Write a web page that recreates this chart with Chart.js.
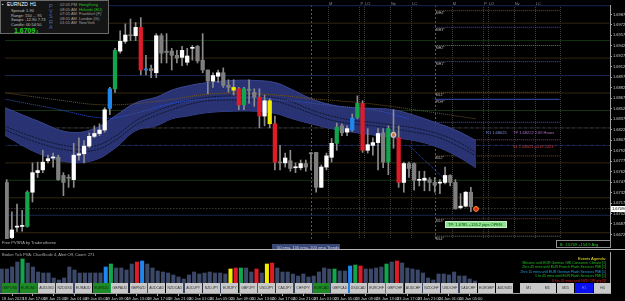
<!DOCTYPE html>
<html>
<head>
<meta charset="utf-8">
<script src="https://cdn.jsdelivr.net/npm/chart.js@4.4.1/dist/chart.umd.min.js"></script>
<style>
  html, body { margin: 0; padding: 0; background: #000; }
  #wrap { position: relative; width: 625px; height: 301px; overflow: hidden; background: #000; font-family: "Liberation Sans", Arial, sans-serif; }
  canvas { position: absolute; left: 0; }
  #priceChart { top: 0; }
  #volChart { top: 250px; }
  .tx { position: absolute; white-space: nowrap; font-size: 4px; line-height: 5px; color: #c8c8c8; }
  .btn { position: absolute; top: 283px; height: 10px; background: #c9c9c9; color: #333; font-size: 3.5px; line-height: 10px; text-align: center; }
</style>
</head>
<body>
<div id="wrap">
  <canvas id="priceChart" width="625" height="244"></canvas>
  <canvas id="volChart" width="625" height="51"></canvas>
</div>
<script>
// EURNZD H1, 18 Jan 13:00 .. 24 Jan 08:00 (one entry per bar)
var candleOpen = [
  1.6747, 1.6668, 1.6683, 1.6684, 1.6684, 1.6733, 1.6761, 1.6765, 1.6778, 1.6782,
  1.6783, 1.6757, 1.6754, 1.6751, 1.6786, 1.6788, 1.6799, 1.6813, 1.6817, 1.6822,
  1.6853, 1.6881, 1.6935, 1.6949, 1.6958, 1.6957, 1.6969, 1.6908, 1.6910, 1.6904,
  1.6957, 1.6935, 1.6935, 1.6929, 1.6926, 1.6919, 1.6939, 1.6942, 1.6922, 1.6908,
  1.6892, 1.6899, 1.6904, 1.6886, 1.6883, 1.6881, 1.6858, 1.6880, 1.6876, 1.6869,
  1.6842, 1.6864, 1.6831, 1.6776, 1.6775, 1.6778, 1.6768, 1.6768, 1.6774, 1.6789,
  1.6790, 1.6740, 1.6769, 1.6783, 1.6803, 1.6828, 1.6819, 1.6822, 1.6840, 1.6860,
  1.6793, 1.6800, 1.6804, 1.6818, 1.6776, 1.6819, 1.6811, 1.6747, 1.6774, 1.6774,
  1.6750, 1.6750, 1.6751, 1.6747, 1.6746, 1.6747, 1.6757, 1.6747, 1.6711, 1.6713,
  1.6733, 1.6710
];
var candleHigh = [
  1.6751, 1.6705, 1.6716, 1.6707, 1.6735, 1.6775, 1.6776, 1.6793, 1.6786, 1.6789,
  1.6786, 1.6761, 1.6758, 1.6803, 1.6811, 1.6807, 1.6818, 1.6828, 1.6831, 1.6854,
  1.6883, 1.6939, 1.6964, 1.6974, 1.6981, 1.6976, 1.6983, 1.6929, 1.6915, 1.6960,
  1.6960, 1.6960, 1.6939, 1.6936, 1.6942, 1.6939, 1.6943, 1.6943, 1.6960, 1.6908,
  1.6904, 1.6908, 1.6911, 1.6894, 1.6894, 1.6883, 1.6883, 1.6894, 1.6881, 1.6881,
  1.6872, 1.6867, 1.6842, 1.6800, 1.6789, 1.6793, 1.6775, 1.6779, 1.6779, 1.6790,
  1.6790, 1.6772, 1.6789, 1.6810, 1.6832, 1.6831, 1.6828, 1.6845, 1.6871, 1.6864,
  1.6824, 1.6811, 1.6824, 1.6824, 1.6828, 1.6851, 1.6828, 1.6776, 1.6776, 1.6775,
  1.6763, 1.6763, 1.6754, 1.6754, 1.6751, 1.6769, 1.6758, 1.6751, 1.6731, 1.6734,
  1.6740, 1.6711
];
var candleLow = [
  1.6664, 1.6665, 1.6677, 1.6677, 1.6683, 1.6719, 1.6754, 1.6761, 1.6775, 1.6769,
  1.6750, 1.6728, 1.6740, 1.6740, 1.6779, 1.6775, 1.6797, 1.6811, 1.6814, 1.6819,
  1.6844, 1.6876, 1.6932, 1.6946, 1.6950, 1.6950, 1.6901, 1.6901, 1.6897, 1.6897,
  1.6918, 1.6918, 1.6908, 1.6918, 1.6914, 1.6915, 1.6922, 1.6918, 1.6904, 1.6874,
  1.6883, 1.6890, 1.6883, 1.6876, 1.6872, 1.6851, 1.6851, 1.6860, 1.6856, 1.6825,
  1.6828, 1.6825, 1.6765, 1.6765, 1.6769, 1.6763, 1.6761, 1.6765, 1.6763, 1.6765,
  1.6733, 1.6740, 1.6765, 1.6776, 1.6793, 1.6814, 1.6814, 1.6820, 1.6838, 1.6790,
  1.6789, 1.6786, 1.6765, 1.6768, 1.6758, 1.6796, 1.6740, 1.6733, 1.6754, 1.6736,
  1.6742, 1.6735, 1.6735, 1.6733, 1.6731, 1.6745, 1.6742, 1.6709, 1.6709, 1.6712,
  1.6705, 1.6707
];
var candleClose = [
  1.6665, 1.6679, 1.6684, 1.6685, 1.6733, 1.6761, 1.6764, 1.6776, 1.6781, 1.6783,
  1.6751, 1.6747, 1.6753, 1.6786, 1.6788, 1.6799, 1.6813, 1.6817, 1.6822, 1.6851,
  1.6881, 1.6936, 1.6949, 1.6958, 1.6957, 1.6969, 1.6908, 1.6909, 1.6907, 1.6957,
  1.6932, 1.6933, 1.6929, 1.6925, 1.6936, 1.6928, 1.6940, 1.6921, 1.6908, 1.6892,
  1.6900, 1.6904, 1.6886, 1.6883, 1.6879, 1.6858, 1.6881, 1.6879, 1.6869, 1.6842,
  1.6864, 1.6831, 1.6776, 1.6775, 1.6782, 1.6767, 1.6769, 1.6774, 1.6769, 1.6788,
  1.6740, 1.6769, 1.6785, 1.6803, 1.6826, 1.6818, 1.6824, 1.6839, 1.6860, 1.6793,
  1.6801, 1.6804, 1.6817, 1.6776, 1.6824, 1.6815, 1.6747, 1.6774, 1.6767, 1.6750,
  1.6751, 1.6753, 1.6747, 1.6743, 1.6747, 1.6757, 1.6747, 1.6709, 1.6713, 1.6733,
  1.6712, 1.6709
];
// PVSRA bar class: w bull, g bear, G bull climax, R bear climax, B bull rising, Y bear rising
var candleType = [
  'g','w','w','w','G','w','w','w','w','w',
  'g','g','g','w','w','w','w','w','w','w',
  'B','G','w','w','g','w','R','B','g','w',
  'g','g','g','g','w','w','w','g','g','g',
  'w','w','g','g','Y','R','G','g','g','R',
  'w','Y','R','g','w','g','w','w','g','g',
  'g','w','w','w','G','g','w','B','G','R',
  'w','w','w','g','G','g','R','w','g','g',
  'w','w','g','g','w','w','g','g','w','w',
  'g','g'
];
var tickVolume = [
  2400, 2400, 2600, 3100, 3400, 3000, 2600, 2100, 2000, 2000,
  1500, 1300, 1500, 2600, 2300, 2000, 2000, 2000, 2000, 2000,
  2600, 2900, 2500, 2500, 2300, 2900, 3100, 3200, 2900, 2500,
  2200, 2100, 2000, 1800, 1600, 1400, 1800, 2100, 1900, 2000,
  2100, 2000, 2000, 1900, 2400, 2500, 2500, 2500, 2100, 2400,
  2000, 2900, 3000, 2500, 2100, 2100, 1900, 1700, 1900, 1600,
  1700, 2100, 2500, 2400, 2400, 2200, 2200, 2700, 2800, 2700,
  2400, 2400, 2500, 2600, 2900, 3100, 3200, 3000, 2500, 2400,
  2300, 2000, 1500, 1300, 1900, 1900, 1800, 2100, 1700, 1700,
  1400, 1200
];

// time axis
var tickIndex = [0, 4, 8, 12, 16, 20, 24, 28, 32, 36, 40, 44, 48, 52, 56, 60, 64, 68, 72, 76, 80, 84, 88];
var tickLabels = ['18 Jan 2023', '18 Jan 17:00', '18 Jan 21:00', '19 Jan 01:00', '19 Jan 05:00', '19 Jan 09:00',
  '19 Jan 13:00', '19 Jan 17:00', '19 Jan 21:00', '20 Jan 01:00', '20 Jan 05:00', '20 Jan 09:00', '20 Jan 13:00',
  '20 Jan 17:00', '20 Jan 21:00', '23 Jan 01:00', '23 Jan 05:00', '23 Jan 09:00', '23 Jan 13:00', '23 Jan 17:00',
  '23 Jan 21:00', '24 Jan 01:00', '24 Jan 05:00'];

// price axis
var priceTicks = [1.69875, 1.69725, 1.69575, 1.69425, 1.69275, 1.69125, 1.68975, 1.68825, 1.68675, 1.68525,
  1.68375, 1.68225, 1.68075, 1.67925, 1.67775, 1.67625, 1.67475, 1.67325, 1.67175, 1.67025, 1.66875, 1.66725];
var bidPrice = 1.67096;

// ema band (50 ema envelope) and trend lines, sampled at bar index
var bandIdx = [-1, 6, 12, 17, 21, 25, 29, 32, 35, 39, 44, 48, 52, 55, 59, 63, 67, 71, 75, 79, 83, 87, 91];
var bandUpper = [1.6856, 1.6835, 1.6819, 1.6824, 1.6842, 1.6861, 1.6869, 1.6879, 1.6885, 1.6890, 1.6893, 1.6893,
  1.6890, 1.6881, 1.6867, 1.6858, 1.6854, 1.6853, 1.6851, 1.6843, 1.6833, 1.6822, 1.6807];
var bandLower = [1.6817, 1.6789, 1.6776, 1.6779, 1.6796, 1.6821, 1.6828, 1.6838, 1.6842, 1.6847, 1.6849, 1.6849,
  1.6846, 1.6839, 1.6831, 1.6824, 1.6819, 1.6815, 1.6811, 1.6807, 1.6799, 1.6786, 1.6768];
var ema100 = [1.6829, 1.6810, 1.6799, 1.6799, 1.6813, 1.6835, 1.6849, 1.6857, 1.6864, 1.6869, 1.6871, 1.6871,
  1.6868, 1.6863, 1.6851, 1.6842, 1.6836, 1.6833, 1.6829, 1.6825, 1.6818, 1.6807, 1.6790];
var ema200 = [1.6824, 1.6804, 1.6793, 1.6793, 1.6807, 1.6829, 1.6843, 1.6851, 1.6858, 1.6864, 1.6865, 1.6865,
  1.6863, 1.6857, 1.6846, 1.6836, 1.6831, 1.6828, 1.6824, 1.6819, 1.6813, 1.6801, 1.6785];
var blueIdx = [-1, 9, 19, 25, 32, 40, 48, 56, 63, 71, 78];
var blueLine = [1.6867, 1.6853, 1.6839, 1.6846, 1.6860, 1.6867, 1.6868, 1.6863, 1.6857, 1.6851, 1.6838];
var brownIdx = [-1, 10, 19, 29, 40, 48, 54, 59, 70, 80, 91];
var brownLine = [1.6876, 1.6865, 1.6858, 1.6863, 1.6874, 1.6874, 1.6871, 1.6867, 1.6860, 1.6850, 1.6838];
var trendIdx = [78, 85];
var trendLine = [1.6800, 1.6751];

// quarter levels across the whole chart
var levelPrice = [1.7000, 1.6975, 1.6950, 1.6925, 1.6900, 1.6875, 1.6850, 1.6825, 1.6800, 1.6775, 1.6750, 1.6725, 1.6700, 1.6675];
var levelColor = ['#172550', '#33250f', '#143514', '#33250f', '#172550', '#33250f', '#143514', '#484848', '#26356e', '#33250f', '#143514', '#33250f', '#172550', '#33250f'];
var levelDash = [[], [], [], [], [], [], [], [3, 1, 1, 1], [3, 1, 1, 1], [], [], [], [], []];

// today's pivot levels (from 24 Jan 00:00)
var pivotFrom = 83, pivotTo = 107.2;
var pivotPrice = [1.6993, 1.6969, 1.6943, 1.6920, 1.6876, 1.6866, 1.6833, 1.6808, 1.6785, 1.6695, 1.6670];
var pivotName = ['MH4', 'MH3', 'MH2', 'MH1', 'ML1', 'PDH', '', '', 'ML2', 'ML3', 'ML4'];
var pivotColor = ['#7a4a22', '#3a4ab8', '#707070', '#3a4ab8', '#7a4a22', '#3a4ab8', '#3a4ab8', '#7a4a7a', '#7a4a22', '#8a3030', '#707070'];

// session markers
var daySep = [59, 83];
var sessionIdx = [62.3, 68.4, 69.3, 74.3, 78.4, 86.3, 92.4, 93.3, 98.3, 102.4];
var sessionName = ['M', 'P', 'LO', 'Ny', 'LC', 'M', 'P', 'LO', 'Ny', 'LC'];

var markIdx = [75, 91];
var markPrice = [1.6815, 1.6709];

var pairs = ['GBPUSD', 'EURUSD', 'AUDUSD', 'NZDUSD', 'EURAUD', 'EURNZD', 'GBPAUD', 'GBPNZD', 'AUDCAD', 'NZDCAD',
  'AUDJPY', 'NZDJPY', 'EURJPY', 'GBPJPY', 'USDJPY', 'CADJPY', 'CHFJPY', 'EURCAD', 'GBPCAD', 'USDCAD', 'EURCHF',
  'GBPCHF', 'AUDCHF', 'NZDCHF', 'USDCHF', 'CADCHF', 'EURGBP', 'AUDNZD'];
var pairsOn = ['GBPUSD', 'EURUSD', 'EURNZD', 'EURCAD'];
var frames = ['M1', 'M5', 'M15', 'H1', 'H4'];

var X_MIN = -0.33, X_MAX = 116.98;
var typeColor = { w: '#ffffff', g: '#7f7f7f', G: '#13a54b', R: '#dd1c28', B: '#1f86ee', Y: '#f2ee00' };
var volColor = { w: '#3c4868', g: '#3c4868', G: '#13a54b', R: '#dd1c28', B: '#1f86ee', Y: '#f2ee00' };

function pts(idx, vals) {
    return idx.map(function (x, k) { return { x: x, y: vals[k] }; });
}

var datasets = [];
for (let k = 0; k < levelPrice.length; k++) {
    datasets.push({
        type: 'line', data: [{ x: -2, y: levelPrice[k] }, { x: 120, y: levelPrice[k] }],
        borderColor: levelColor[k], borderWidth: 1, borderDash: levelDash[k], pointRadius: 0, order: 20
    });
}
datasets.push({
    type: 'line', data: [{ x: -2, y: bidPrice }, { x: 120, y: bidPrice }],
    borderColor: '#5a5a5a', borderWidth: 1, borderDash: [1, 2], pointRadius: 0, order: 19
});
for (let k = 0; k < pivotPrice.length; k++) {
    datasets.push({
        type: 'line', data: [{ x: pivotFrom, y: pivotPrice[k] }, { x: pivotTo, y: pivotPrice[k] }],
        borderColor: pivotColor[k], borderWidth: 1, borderDash: k === 5 ? [] : [1, 1], pointRadius: 0, order: 18
    });
}
datasets.push({
    type: 'line', data: pts(bandIdx, bandUpper), borderColor: '#3a4792', borderWidth: 1,
    backgroundColor: 'rgba(44,55,124,0.93)', fill: '+1', tension: 0.4, pointRadius: 0, order: 15
});
datasets.push({
    type: 'line', data: pts(bandIdx, bandLower), borderColor: '#3a4792', borderWidth: 1,
    fill: false, tension: 0.4, pointRadius: 0, order: 15
});
datasets.push({ type: 'line', data: pts(bandIdx, ema100), borderColor: '#11152a', borderWidth: 1, borderDash: [2, 1], tension: 0.4, pointRadius: 0, order: 12 });
datasets.push({ type: 'line', data: pts(bandIdx, ema200), borderColor: '#11152a', borderWidth: 1, borderDash: [2, 1], tension: 0.4, pointRadius: 0, order: 12 });
datasets.push({ type: 'line', data: pts(blueIdx, blueLine), borderColor: '#2a52d8', borderWidth: 1, borderDash: [1, 1], tension: 0.4, pointRadius: 0, order: 11 });
datasets.push({ type: 'line', data: pts(brownIdx, brownLine), borderColor: '#6e5424', borderWidth: 1, borderDash: [1, 1], tension: 0.4, pointRadius: 0, order: 11 });
datasets.push({ type: 'line', data: pts(trendIdx, trendLine), borderColor: '#2a52d8', borderWidth: 1, borderDash: [1, 1], pointRadius: 0, order: 11 });
datasets.push({
    type: 'bar', data: candleLow.map(function (l, i) { return { x: i, y: [l, candleHigh[i]] }; }),
    backgroundColor: '#8c8c8c', barThickness: 1, grouped: false, order: 3
});
datasets.push({
    type: 'bar', data: candleOpen.map(function (o, i) { return { x: i, y: [o, candleClose[i]] }; }),
    backgroundColor: candleType.map(function (t) { return typeColor[t]; }),
    barThickness: 3.6, minBarLength: 1, grouped: false, order: 2
});
datasets.push({
    type: 'line', data: pts(markIdx, markPrice), showLine: false, pointRadius: 2.4, pointBorderWidth: 1,
    pointBackgroundColor: ['#c87850', '#e0201c'], pointBorderColor: ['#e8e0d8', '#ff9a20'], order: 0
});

var sessionPlugin = {
    id: 'sessions',
    beforeDatasetsDraw: function (chart) {
        var ctx = chart.ctx, xs = chart.scales.x, a = chart.chartArea;
        ctx.save();
        ctx.lineWidth = 1;
        daySep.forEach(function (i) {
            var px = Math.round(xs.getPixelForValue(i)) + 0.5;
            ctx.strokeStyle = '#5a5a5a';
            ctx.setLineDash([2, 2]);
            ctx.beginPath(); ctx.moveTo(px, a.top); ctx.lineTo(px, a.bottom); ctx.stroke();
        });
        ctx.setLineDash([1, 1]);
        ctx.strokeStyle = '#3c3c3c';
        sessionIdx.concat([pivotTo]).forEach(function (i) {
            var px = Math.round(xs.getPixelForValue(i)) + 0.5;
            ctx.beginPath(); ctx.moveTo(px, a.top); ctx.lineTo(px, a.bottom); ctx.stroke();
        });
        ctx.setLineDash([]);
        ctx.fillStyle = '#8a8a8a';
        ctx.font = '4px "Liberation Sans"';
        ctx.textBaseline = 'top';
        sessionIdx.forEach(function (i, k) {
            ctx.fillText(sessionName[k], xs.getPixelForValue(i) + 1, 2);
        });
        ctx.restore();
    },
    afterDraw: function (chart) {
        var ctx = chart.ctx, y = chart.scales.y.getPixelForValue(bidPrice);
        ctx.save();
        ctx.fillStyle = '#ffffff';
        ctx.fillRect(611, Math.round(y) - 3, 14, 6);
        ctx.fillStyle = '#000000';
        ctx.font = '4px "Liberation Sans"';
        ctx.textBaseline = 'middle';
        ctx.fillText(bidPrice.toFixed(5), 612, y);
        ctx.restore();
    }
};

var priceChart = new Chart(document.getElementById('priceChart'), {
    type: 'bar',
    data: { datasets: datasets },
    options: {
        responsive: false, animation: false, devicePixelRatio: 1,
        layout: { padding: { top: 0, bottom: 1, left: 0, right: 0 } },
        plugins: { legend: { display: false }, tooltip: { enabled: false } },
        scales: {
            x: { type: 'linear', min: X_MIN, max: X_MAX, display: false, offset: false },
            y: {
                type: 'linear', position: 'right', min: 1.6666, max: 1.7001,
                afterBuildTicks: function (s) { s.ticks = priceTicks.map(function (v) { return { value: v }; }); },
                afterFit: function (s) { s.width = 15; s.paddingTop = 0; s.paddingBottom = 0; },
                ticks: { color: '#d0d0d0', font: { size: 4, family: 'Liberation Sans' }, padding: 1,
                    callback: function (v) { return v.toFixed(5); } },
                grid: { drawOnChartArea: false, color: '#a0a0a0', tickLength: 2 },
                border: { color: '#a0a0a0' }
            }
        }
    },
    plugins: [sessionPlugin]
});

var volChart = new Chart(document.getElementById('volChart'), {
    type: 'bar',
    data: {
        datasets: [{
            data: tickVolume.map(function (v, i) { return { x: i, y: v }; }),
            backgroundColor: candleType.map(function (t) { return volColor[t]; }),
            barThickness: 3.4, grouped: false
        }]
    },
    options: {
        responsive: false, animation: false, devicePixelRatio: 1,
        layout: { padding: { top: 2, bottom: 0, left: 0, right: 0 } },
        plugins: { legend: { display: false }, tooltip: { enabled: false } },
        scales: {
            x: {
                type: 'linear', min: X_MIN, max: X_MAX, offset: false,
                afterBuildTicks: function (s) { s.ticks = tickIndex.map(function (v) { return { value: v }; }); },
                afterFit: function (s) { s.height = 8; s.paddingLeft = 0; s.paddingRight = 0; },
                ticks: { color: '#d0d0d0', font: { size: 4, family: 'Liberation Sans' }, padding: 0,
                    align: 'start', maxRotation: 0, autoSkip: false,
                    callback: function (v, idx) { return tickLabels[idx]; } },
                grid: { drawOnChartArea: false, color: '#a0a0a0', tickLength: 3 },
                border: { color: '#a0a0a0' }
            },
            y: {
                position: 'right', min: 0, max: 4100,
                afterFit: function (s) { s.width = 15; s.paddingTop = 0; s.paddingBottom = 0; },
                ticks: { display: false },
                grid: { drawOnChartArea: false, display: false },
                border: { color: '#a0a0a0' }
            }
        }
    }
});

// ---- text overlays ----
var wrap = document.getElementById('wrap');
function addText(txt, left, top, color, extra) {
    var d = document.createElement('div');
    d.className = 'tx';
    d.textContent = txt;
    d.style.left = left + 'px';
    d.style.top = top + 'px';
    if (color) d.style.color = color;
    if (extra) d.setAttribute('style', d.getAttribute('style') + ';' + extra);
    wrap.appendChild(d);
    return d;
}
function addBox(left, top, w, h, css) {
    var d = document.createElement('div');
    d.style.cssText = 'position:absolute;left:' + left + 'px;top:' + top + 'px;width:' + w + 'px;height:' + h + 'px;' + css;
    wrap.appendChild(d);
    return d;
}

// info panel
addBox(0, 0, 109, 34, 'background:#151515;border:1px solid #6a6a6a;box-sizing:border-box');
addText('\u25AA', 2, 1.5, '#ffffff');
addText('EURNZD', 7, 2, '#ffffff', 'font-size:5px');
addText('H1', 30, 2, '#ffffff', 'font-size:5px');
addText('Spread: 1.90', 11, 8, '#c0c0c0');
addText('Range: 150 ... 95', 11, 12.5, '#c0c0c0');
addText('Swaps: -12.90  7.73', 11, 17, '#c0c0c0');
addText('Candle: 00:54:50', 11, 21.5, '#c0c0c0');
addText('1.6709', 14, 27, '#1ed01e', 'font-size:7px;line-height:7px;font-weight:bold');
addText('4', 36, 29, '#1ed01e');
['P', 'V', 'S', 'R', 'A'].forEach(function (c, k) { addText(c, 49, 4 + k * 5.2, '#3a68d8', 'font-size:5.5px'); });
var clockTimes = ['02:05 PM', '08:05 AM', '07:05 AM', '08:05 AM', '01:05 AM'];
var clockCity = ['HongKong', 'Helsinki (EU)', 'Frankfurt (F)', 'London (G)', 'NewYork'];
var cityColor = ['#20c020', '#20c020', '#a0a0a0', '#a0a0a0', '#a0a0a0'];
clockTimes.forEach(function (t, k) {
    addText(t, 60, 2 + k * 4.5, '#a0a0a0');
    addText(clockCity[k], 79, 2 + k * 4.5, cityColor[k]);
});

// pivot labels
var ys = priceChart.scales.y, xs = priceChart.scales.x;
pivotName.forEach(function (n, k) {
    if (n) addText(n + '*', xs.getPixelForValue(pivotFrom) + 1, ys.getPixelForValue(pivotPrice[k]) + 0.5, '#b0b0b0', 'font-size:3.5px');
});
addText('R1 1.68025', 486, ys.getPixelForValue(1.6818) - 2.5, '#8090e0');
addText('TP  1.68222 2.69 Hours', 513, ys.getPixelForValue(1.6818) - 2.5, '#b070c8');
addText('SL  1.68021 p=19 2023', 513, ys.getPixelForValue(1.6798) - 2.5, '#d03a3a');

addBox(445, 221, 62, 7, 'background:#8ee08e;border:1px solid #c8f0c8;box-sizing:border-box');
addText('TP: 1.6785  +126.2  pips OPEN', 448, 222, '#064a06');
addBox(556, 240, 55, 8, 'background:#000;border:1px solid #909090;box-sizing:border-box');
addText('B: 1.6709  +154.9  Avg', 560, 241.5, '#30c830');

addText('Free PVSRA by Traderathome', 2, 240, '#b0b0b0');
addBox(272, 244, 68, 6, 'background:#3a4878');
addText('50 ema,  100 ema,  200 ema  Trends', 277, 244.5, '#c8cce8');
addBox(0, 249, 625, 1, 'background:#b4b4b4');
addText('Broker Tick PVA:   ChartScale 4,   Alert:Off,   Count:  271', 2, 252, '#b0b0b0');

// events agenda
var events = ['Minutes until EUR German GfK Consumer Climate  [1]', '2hrs 45 mins until EUR French Flash Services PMI  [1]',
    '2hrs 15 mins until EUR German Flash Services PMI  [1]', '1 hr 45 mins until EUR Flash Services PMI  [1]',
    '8 hrs 45 mins until NZD CPI q/q  [3]'];
var eventColor = ['#20c020', '#20c020', '#2aa0e0', '#20c020', '#e02020'];
addText('Events Agenda:', 0, 255.5, '#e8e020', 'left:auto;right:19px');
events.forEach(function (e, k) {
    addText(e, 0, 260.5 + k * 4.5, eventColor[k], 'left:auto;right:19px;font-size:3.5px');
});

// symbol / timeframe buttons
pairs.forEach(function (p, k) {
    var b = document.createElement('div');
    b.className = 'btn';
    b.textContent = p;
    b.style.left = (1.5 + k * 18.33) + 'px';
    b.style.width = '16.8px';
    if (pairsOn.indexOf(p) >= 0) { b.style.background = '#1f8a26'; b.style.color = '#0a2a0a'; }
    wrap.appendChild(b);
});
frames.forEach(function (f, k) {
    var b = document.createElement('div');
    b.className = 'btn';
    b.textContent = f;
    b.style.left = (520 + k * 18.4) + 'px';
    b.style.width = '17.6px';
    if (f === 'H1') { b.style.background = '#0a10f0'; b.style.color = '#7080ff'; }
    wrap.appendChild(b);
});
</script>
</body>
</html>
